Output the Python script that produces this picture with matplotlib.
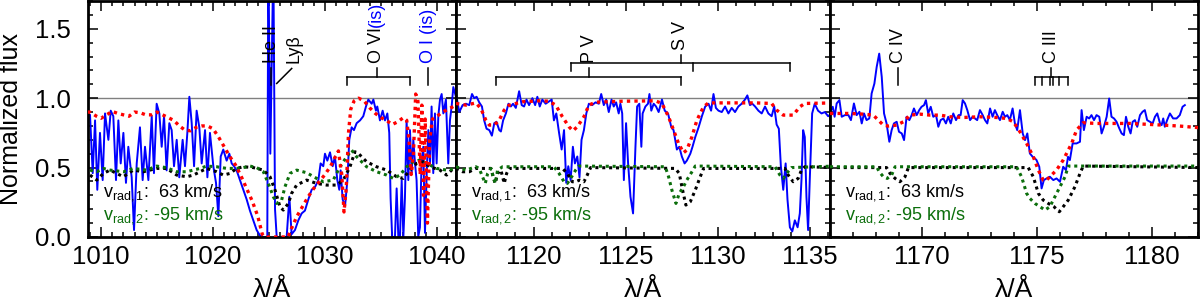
import matplotlib
matplotlib.use("Agg")
import matplotlib.pyplot as plt
import matplotlib.transforms as mtransforms
from matplotlib.ticker import MultipleLocator, FormatStrFormatter
import numpy as np

plt.rcParams['font.family'] = ['Liberation Sans', 'DejaVu Sans']
plt.rcParams['mathtext.fontset'] = 'custom'
plt.rcParams['mathtext.rm'] = 'Liberation Sans'
plt.rcParams['mathtext.it'] = 'Liberation Sans:italic'
plt.rcParams['mathtext.bf'] = 'Liberation Sans:bold'

NARROW = ['Liberation Sans Narrow', 'DejaVu Sans Condensed', 'Liberation Sans']

# ---------------- data: panel 1 (O VI region) ----------------
p1_obs = [(1008.84,0.87),(1009.02,0.88),(1009.26,0.46),(1009.47,0.84),(1009.67,0.34),(1009.91,0.75),(1010.15,0.41),(1010.36,0.89),(1010.66,0.70),(1010.87,0.91),(1011.10,0.87),(1011.34,0.41),(1011.55,0.84),(1011.76,0.53),(1012.00,0.75),(1012.23,0.39),(1012.44,0.65),(1012.74,0.43),(1012.95,0.05),(1013.19,0.53),(1013.48,0.79),(1013.72,0.41),(1013.93,0.65),(1014.23,0.41),(1014.53,0.87),(1014.73,0.46),(1014.97,0.96),(1015.21,0.89),(1015.42,0.65),(1015.63,0.87),(1015.86,0.48),(1016.10,0.82),(1016.31,0.77),(1016.52,0.51),(1016.76,0.70),(1016.99,0.43),(1017.29,0.70),(1017.50,0.51),(1017.71,0.75),(1017.89,1.01),(1018.10,0.82),(1018.31,0.51),(1018.54,0.91),(1018.78,0.79),(1018.99,0.53),(1019.29,0.77),(1019.50,0.43),(1019.73,0.75),(1020.03,0.51),(1020.27,0.39),(1020.48,0.15),(1020.69,0.58),(1020.92,0.63),(1021.22,0.55),(1021.46,0.60),(1021.67,0.53),(1021.88,0.51),(1022.11,0.48),(1022.41,0.41),(1022.71,0.34),(1023.01,0.27),(1023.30,0.19),(1023.60,0.12),(1023.90,0.05),(1024.20,0.01),(1024.50,0.0),(1024.85,0.0),(1024.94,2.0),(1025.12,0.6),(1025.39,2.0),(1025.54,0.2),(1025.69,0.0),(1026.13,0.0),(1026.58,0.0),(1026.82,0.29),(1027.02,0.02),(1027.32,0.05),(1027.62,0.12),(1027.92,0.17),(1028.21,0.19),(1028.51,0.27),(1028.81,0.34),(1029.11,0.36),(1029.41,0.41),(1029.61,0.53),(1029.85,0.51),(1030.00,0.60),(1030.21,0.55),(1030.45,0.61),(1030.69,0.51),(1030.89,0.58),(1031.10,0.41),(1031.28,0.34),(1031.40,0.48),(1031.58,0.27),(1031.79,0.22),(1032.00,0.41),(1032.17,0.70),(1032.38,0.79),(1032.59,0.77),(1032.83,0.82),(1033.13,0.84),(1033.42,0.87),(1033.66,0.94),(1033.87,0.99),(1034.17,0.96),(1034.32,0.99),(1034.55,0.91),(1034.67,0.94),(1034.91,0.84),(1035.15,0.91),(1035.36,0.84),(1035.57,0.89),(1035.74,0.75),(1035.86,0.28),(1036.00,0.0),(1036.25,0.0),(1036.40,0.35),(1036.55,0.0),(1036.70,0.0),(1036.85,0.41),(1037.00,0.0),(1037.14,0.28),(1037.29,0.84),(1037.44,0.41),(1037.59,0.77),(1037.74,0.46),(1037.89,0.70),(1038.04,0.53),(1038.18,0.41),(1038.33,0.0),(1038.48,0.07),(1038.63,0.55),(1038.78,0.65),(1038.93,0.03),(1039.08,0.45),(1039.23,0.77),(1039.38,0.53),(1039.52,0.94),(1039.67,0.46),(1039.82,0.89),(1039.97,0.53),(1040.12,0.87),(1040.27,0.99),(1040.42,1.03),(1040.57,0.89),(1040.80,0.99),(1041.01,0.53),(1041.16,0.84),(1041.31,0.94),(1041.46,1.08),(1041.76,0.99)]

p1_model = [(1008.8,0.90),(1009.0,0.90),(1009.6,0.87),(1010.0,0.855),(1010.5,0.88),(1011.0,0.905),(1011.5,0.89),(1012.0,0.88),(1012.5,0.87),(1013.0,0.90),(1013.5,0.895),(1014.0,0.88),(1014.5,0.88),(1015.0,0.90),(1015.5,0.88),(1016.0,0.86),(1016.5,0.84),(1017.0,0.80),(1017.5,0.77),(1018.0,0.765),(1018.5,0.79),(1019.0,0.80),(1019.5,0.80),(1020.0,0.78),(1020.5,0.72),(1021.0,0.65),(1021.5,0.58),(1022.0,0.52),(1022.5,0.44),(1023.0,0.35),(1023.5,0.26),(1024.0,0.15),(1024.4,0.02),(1024.6,0.0),(1026.7,0.0),(1027.0,0.06),(1027.5,0.15),(1028.0,0.22),(1028.5,0.29),(1029.0,0.35),(1029.5,0.40),(1030.0,0.45),(1030.5,0.51),(1031.0,0.59),(1031.2,0.62),(1031.5,0.45),(1031.7,0.18),(1031.9,0.35),(1032.1,0.75),(1032.3,0.92),(1032.6,0.98),(1033.0,1.00),(1033.5,0.98),(1034.0,0.93),(1034.5,0.89),(1035.0,0.86),(1035.5,0.84),(1036.0,0.81),(1036.5,0.83),(1037.0,0.86),(1037.3,0.84),(1037.5,0.70),(1037.7,0.45),(1037.9,0.60),(1038.1,1.03),(1038.3,0.98),(1038.5,0.45),(1038.65,0.95),(1038.8,0.30),(1038.95,0.85),(1039.15,0.10),(1039.35,0.70),(1039.6,0.85),(1040.0,0.87),(1040.5,0.90),(1041.0,0.92),(1041.7,0.95)]

p1_vrad1 = [(1009.02,0.446),(1009.62,0.41),(1010.21,0.458),(1010.81,0.482),(1011.40,0.458),(1012.0,0.434),(1012.89,0.482),(1013.78,0.47),(1014.97,0.494),(1015.86,0.494),(1016.76,0.446),(1017.65,0.434),(1018.25,0.446),(1018.84,0.47),(1019.44,0.494),(1020.33,0.47),(1020.92,0.446),(1021.52,0.458),(1022.11,0.494),(1022.71,0.506),(1023.60,0.50),(1024.50,0.482),(1025.09,0.434),(1025.54,0.338),(1025.98,0.218),(1026.28,0.194),(1026.73,0.242),(1027.02,0.314),(1027.47,0.374),(1028.36,0.41),(1029.26,0.386),(1030.15,0.374),(1031.04,0.374),(1031.64,0.41),(1032.23,0.506),(1032.68,0.614),(1032.98,0.602),(1033.72,0.542),(1034.61,0.506),(1035.51,0.482),(1036.40,0.434),(1036.99,0.422),(1037.59,0.482),(1038.18,0.530),(1038.78,0.542),(1039.38,0.506),(1040.27,0.482),(1040.86,0.446),(1041.46,0.494),(1042.05,0.506)]

p1_vrad2 = [(1009.02,0.482),(1009.62,0.47),(1010.21,0.494),(1010.81,0.482),(1012.0,0.47),(1012.89,0.494),(1014.08,0.482),(1014.97,0.511),(1015.86,0.499),(1016.76,0.47),(1017.65,0.47),(1018.84,0.494),(1019.44,0.511),(1020.33,0.506),(1021.22,0.494),(1022.11,0.494),(1022.71,0.50),(1023.30,0.511),(1023.90,0.50),(1024.50,0.47),(1024.94,0.386),(1025.39,0.29),(1025.69,0.242),(1026.13,0.266),(1026.43,0.362),(1026.88,0.458),(1027.47,0.482),(1028.36,0.463),(1029.26,0.422),(1029.85,0.398),(1030.74,0.41),(1031.34,0.506),(1031.94,0.578),(1032.38,0.626),(1032.83,0.578),(1033.72,0.506),(1034.61,0.47),(1035.51,0.446),(1036.10,0.422),(1036.70,0.446),(1037.29,0.506),(1037.89,0.542),(1038.48,0.554),(1039.08,0.53),(1039.97,0.494),(1040.86,0.482),(1041.76,0.494)]

# ---------------- data: panel 2 (P V region) ----------------
p2_obs = [(1115.78,1.03),(1115.96,0.90),(1116.14,0.95),(1116.32,0.96),(1116.50,0.95),(1116.65,1.03),(1116.77,1.00),(1116.90,1.01),(1117.04,0.97),(1117.19,0.94),(1117.31,0.84),(1117.44,0.78),(1117.59,0.77),(1117.73,0.73),(1117.86,0.82),(1117.98,0.83),(1118.13,0.77),(1118.22,0.76),(1118.34,0.84),(1118.49,0.89),(1118.63,0.96),(1118.76,0.94),(1118.88,0.96),(1119.03,0.93),(1119.21,1.05),(1119.35,0.95),(1119.48,0.94),(1119.61,0.99),(1119.75,0.95),(1119.93,1.00),(1120.08,0.95),(1120.20,1.01),(1120.33,0.94),(1120.47,0.99),(1120.65,0.96),(1120.98,0.99),(1121.10,0.84),(1121.23,0.89),(1121.38,0.75),(1121.52,0.63),(1121.65,0.77),(1121.77,0.39),(1121.88,0.51),(1122.01,0.41),(1122.13,0.65),(1122.24,0.53),(1122.37,0.58),(1122.49,0.43),(1122.60,0.70),(1122.73,0.77),(1122.86,0.89),(1123.0,0.96),(1123.18,0.95),(1123.36,0.97),(1123.54,0.96),(1123.67,1.03),(1123.81,0.95),(1123.94,0.99),(1124.08,0.90),(1124.23,0.99),(1124.35,0.94),(1124.48,0.97),(1124.62,0.89),(1124.71,0.96),(1124.81,0.89),(1124.90,0.41),(1125.02,0.82),(1125.13,0.53),(1125.26,0.29),(1125.40,0.17),(1125.53,0.65),(1125.62,0.94),(1125.74,0.96),(1125.85,0.65),(1125.92,0.89),(1126.07,0.94),(1126.21,0.96),(1126.29,1.03),(1126.39,0.91),(1126.52,0.96),(1126.65,0.94),(1126.79,0.90),(1126.97,0.99),(1127.12,0.91),(1127.30,0.89),(1127.48,0.79),(1127.60,0.77),(1127.69,0.70),(1127.78,0.63),(1127.91,0.65),(1128.05,0.58),(1128.20,0.53),(1128.32,0.55),(1128.51,0.60),(1128.63,0.65),(1128.78,0.72),(1128.96,0.79),(1129.14,0.87),(1129.32,0.94),(1129.50,0.96),(1129.64,0.91),(1129.77,1.03),(1129.90,0.93),(1130.04,0.91),(1130.22,0.90),(1130.40,0.94),(1130.58,0.89),(1130.76,0.93),(1130.94,0.90),(1131.12,0.94),(1131.30,0.96),(1131.48,0.99),(1131.61,1.02),(1131.75,0.95),(1131.88,0.96),(1132.03,0.94),(1132.21,0.91),(1132.39,0.89),(1132.57,0.94),(1132.75,0.89),(1132.93,0.87),(1133.07,0.94),(1133.20,0.81),(1133.32,0.78),(1133.43,0.51),(1133.56,0.34),(1133.69,0.53),(1133.79,0.27),(1133.92,0.07),(1134.05,0.04),(1134.19,0.12),(1134.34,0.07),(1134.46,0.17),(1134.55,0.41),(1134.64,0.77),(1134.73,0.72),(1134.82,0.29),(1134.91,0.05),(1135.0,0.41),(1135.13,0.89),(1135.27,0.96),(1135.45,0.91),(1135.64,0.89),(1135.82,0.90),(1136.0,0.87),(1136.18,0.89),(1136.36,0.92)]

p2_model = [(1115.78,0.962),(1116.32,0.95),(1116.86,0.966),(1117.13,0.926),(1117.40,0.842),(1117.59,0.806),(1117.86,0.806),(1118.13,0.842),(1118.40,0.914),(1118.67,0.95),(1119.39,0.974),(1120.29,0.981),(1120.83,0.978),(1121.20,0.95),(1121.56,0.866),(1121.92,0.794),(1122.13,0.765),(1122.37,0.794),(1122.73,0.866),(1123.0,0.95),(1123.36,0.971),(1124.81,0.978),(1126.61,0.981),(1126.97,0.962),(1127.33,0.866),(1127.60,0.770),(1127.87,0.674),(1128.14,0.607),(1128.32,0.626),(1128.60,0.722),(1128.87,0.842),(1129.23,0.938),(1129.50,0.966),(1132.03,0.966),(1132.93,0.962),(1133.20,0.914),(1133.56,0.878),(1134.10,0.878),(1134.46,0.938),(1134.73,0.962),(1136.36,0.966)]

p2_vrad1 = [(1115.78,0.494),(1116.14,0.47),(1116.50,0.47),(1116.86,0.494),(1117.68,0.494),(1117.80,0.434),(1117.91,0.386),(1118.04,0.458),(1118.22,0.482),(1118.40,0.386),(1118.53,0.458),(1118.67,0.494),(1121.56,0.494),(1121.83,0.458),(1122.10,0.398),(1122.28,0.398),(1122.49,0.41),(1122.73,0.398),(1122.91,0.446),(1123.09,0.50),(1127.69,0.494),(1127.91,0.458),(1128.09,0.338),(1128.27,0.23),(1128.51,0.254),(1128.78,0.338),(1129.05,0.434),(1129.23,0.494),(1133.65,0.494),(1133.83,0.446),(1134.10,0.398),(1134.37,0.422),(1134.55,0.482),(1134.73,0.506),(1136.36,0.50)]

p2_vrad2 = [(1115.78,0.506),(1116.32,0.482),(1116.86,0.506),(1117.04,0.494),(1117.22,0.434),(1117.37,0.386),(1117.50,0.458),(1117.68,0.494),(1117.80,0.434),(1117.91,0.386),(1118.04,0.482),(1118.31,0.506),(1121.10,0.506),(1121.38,0.458),(1121.65,0.398),(1121.83,0.386),(1122.01,0.422),(1122.28,0.482),(1122.46,0.511),(1127.15,0.506),(1127.33,0.434),(1127.51,0.338),(1127.73,0.242),(1127.91,0.314),(1128.14,0.362),(1128.32,0.41),(1128.60,0.47),(1128.78,0.511),(1133.11,0.506),(1133.38,0.446),(1133.56,0.422),(1133.74,0.458),(1134.01,0.50),(1136.36,0.511)]

# ---------------- data: panel 3 (C III region) ----------------
p3_obs = [(1166.02,0.902),(1166.14,0.938),(1166.22,0.866),(1166.31,0.962),(1166.43,0.986),(1166.53,0.866),(1166.67,0.878),(1166.82,0.878),(1166.93,0.842),(1167.06,0.962),(1167.18,0.878),(1167.30,0.902),(1167.40,0.818),(1167.50,0.890),(1167.61,0.842),(1167.73,0.854),(1167.83,1.034),(1167.95,1.105),(1168.05,1.225),(1168.16,1.321),(1168.27,1.153),(1168.37,0.890),(1168.48,0.818),(1168.60,0.686),(1168.70,0.770),(1168.80,0.818),(1168.92,0.830),(1169.02,0.758),(1169.14,0.746),(1169.24,0.698),(1169.35,0.866),(1169.47,0.842),(1169.57,0.878),(1169.67,0.926),(1169.79,0.878),(1169.90,0.914),(1170.0,0.938),(1170.11,0.950),(1170.19,0.986),(1170.29,0.890),(1170.40,0.938),(1170.51,0.866),(1170.63,0.878),(1170.73,0.794),(1170.83,0.842),(1170.95,0.854),(1171.06,0.818),(1171.16,0.866),(1171.27,0.818),(1171.38,0.890),(1171.50,0.842),(1171.61,0.878),(1171.70,0.878),(1171.79,0.986),(1171.89,0.962),(1171.99,0.914),(1172.11,0.842),(1172.22,0.866),(1172.32,0.854),(1172.42,0.842),(1172.54,0.914),(1172.66,0.878),(1172.76,0.842),(1172.86,0.818),(1172.98,0.926),(1173.09,0.866),(1173.19,0.914),(1173.29,0.878),(1173.41,0.842),(1173.53,0.902),(1173.63,0.866),(1173.73,0.878),(1173.84,0.842),(1173.96,0.926),(1174.06,0.818),(1174.16,0.770),(1174.28,0.914),(1174.40,0.746),(1174.50,0.698),(1174.60,0.746),(1174.71,0.602),(1174.83,0.578),(1174.93,0.566),(1175.0,0.554),(1175.12,0.506),(1175.22,0.35),(1175.32,0.41),(1175.44,0.422),(1175.58,0.434),(1175.73,0.41),(1175.87,0.422),(1176.02,0.398),(1176.16,0.506),(1176.28,0.482),(1176.37,0.578),(1176.45,0.554),(1176.57,0.674),(1176.74,0.674),(1176.89,0.686),(1176.96,0.914),(1177.06,0.770),(1177.18,0.866),(1177.29,0.854),(1177.39,0.878),(1177.50,0.842),(1177.61,0.878),(1177.73,0.866),(1177.83,0.746),(1177.93,0.794),(1178.05,0.866),(1178.16,0.998),(1178.26,0.866),(1178.37,0.854),(1178.48,0.830),(1178.60,0.782),(1178.70,0.746),(1178.80,0.734),(1178.89,0.866),(1178.99,0.794),(1179.09,0.746),(1179.18,0.830),(1179.28,0.842),(1179.38,0.794),(1179.50,0.878),(1179.61,0.902),(1179.71,0.914),(1179.81,0.842),(1179.93,0.830),(1180.05,0.818),(1180.15,0.866),(1180.25,0.890),(1180.37,0.818),(1180.44,0.806),(1180.51,0.854),(1180.58,0.794),(1180.68,0.842),(1180.80,0.890),(1180.94,0.854),(1181.09,0.854),(1181.23,0.878),(1181.35,0.938),(1181.45,0.950)]

p3_model = [(1166.02,0.890),(1166.89,0.890),(1167.47,0.885),(1167.90,0.878),(1168.12,0.842),(1168.34,0.806),(1168.56,0.799),(1168.92,0.806),(1169.21,0.830),(1169.50,0.878),(1169.93,0.885),(1170.37,0.878),(1170.80,0.878),(1171.24,0.866),(1171.82,0.861),(1172.54,0.866),(1173.27,0.861),(1173.70,0.854),(1173.99,0.830),(1174.28,0.758),(1174.57,0.674),(1174.86,0.578),(1175.08,0.482),(1175.29,0.41),(1175.41,0.405),(1175.58,0.434),(1175.87,0.482),(1176.16,0.554),(1176.38,0.626),(1176.53,0.674),(1176.74,0.770),(1177.03,0.823),(1177.61,0.818),(1179.06,0.818),(1180.51,0.806),(1181.23,0.799),(1182.10,0.787)]

p3_vrad1 = [(1166.02,0.50),(1168.48,0.50),(1168.63,0.458),(1168.85,0.422),(1169.06,0.398),(1169.28,0.434),(1169.43,0.50),(1174.64,0.50),(1174.86,0.434),(1175.08,0.314),(1175.29,0.266),(1175.51,0.242),(1175.76,0.218),(1175.99,0.182),(1176.16,0.218),(1176.38,0.266),(1176.67,0.362),(1176.89,0.458),(1177.03,0.511),(1182.10,0.50)]

p3_vrad2 = [(1166.02,0.506),(1168.05,0.506),(1168.16,0.47),(1168.34,0.434),(1168.51,0.422),(1168.70,0.446),(1168.85,0.506),(1174.13,0.506),(1174.35,0.434),(1174.57,0.314),(1174.71,0.278),(1174.93,0.242),(1175.15,0.218),(1175.37,0.194),(1175.58,0.218),(1175.80,0.29),(1176.02,0.362),(1176.24,0.434),(1176.38,0.511),(1182.10,0.511)]

# panel settings
xlims = [(1008.84, 1041.7), (1115.78, 1136.1), (1166.02, 1182.0)]
xmajor = [10, 5, 5]
vrad_labels = [r'v$_{\rm rad,1}$:  63 km/s', r'v$_{\rm rad,2}$: -95 km/s']

BLUE = '#0000FF'
RED = '#FF0000'
GREEN = '#0B6E0B'
DOT = (0, (1.0, 1.25))

fig = plt.figure(figsize=(12, 3.08), dpi=100)
W, H = 1200.0, 308.0
bottom = (H - 237) / H
height = 236 / H
lefts_px = [88, 456, 830]
rights_px = [456, 830, 1197.5]
axes = []
for lp, rp in zip(lefts_px, rights_px):
    axes.append(fig.add_axes([lp / W, bottom, (rp - lp) / W, height]))

datasets = [(p1_obs, p1_model, p1_vrad1, p1_vrad2),
            (p2_obs, p2_model, p2_vrad1, p2_vrad2),
            (p3_obs, p3_model, p3_vrad1, p3_vrad2)]

for i, ax in enumerate(axes):
    obs, mod, v1, v2 = [np.array(d) for d in datasets[i]]
    ax.axhline(1.0, color='#808080', lw=1.0, zorder=1)
    ax.plot(obs[:, 0], obs[:, 1], color=BLUE, lw=1.4, zorder=2)
    ax.plot(v1[:, 0], v1[:, 1], color='black', lw=2.2, ls=DOT, zorder=3)
    ax.plot(v2[:, 0], v2[:, 1], color=GREEN, lw=2.2, ls=DOT, zorder=3)
    ax.plot(mod[:, 0], mod[:, 1], color=RED, lw=2.4, ls=DOT, zorder=4)
    ax.set_xlim(*xlims[i])
    ax.set_ylim(0, 1.7)
    ax.xaxis.set_major_locator(MultipleLocator(xmajor[i]))
    ax.xaxis.set_minor_locator(MultipleLocator(1))
    ax.yaxis.set_major_locator(MultipleLocator(0.5))
    ax.yaxis.set_minor_locator(MultipleLocator(0.1))
    ax.yaxis.set_major_formatter(FormatStrFormatter('%.1f'))
    ax.tick_params(which='both', direction='in', top=True, right=True, width=1.1, color='black')
    ax.tick_params(which='major', length=7, labelsize=18.5)
    ax.tick_params(which='minor', length=3.8)
    ax.tick_params(axis='x', which='major', pad=6)
    ax.tick_params(axis='y', which='major', pad=12)
    if i > 0:
        ax.tick_params(axis='y', labelleft=False)
    for s in ax.spines.values():
        s.set_linewidth(2.0)
    ax.text(0.04, 0.17, vrad_labels[0], transform=ax.transAxes, fontsize=13,
            color='black', va='baseline', ha='left', zorder=6)
    ax.text(0.04, 0.075, vrad_labels[1], transform=ax.transAxes, fontsize=13,
            color=GREEN, va='baseline', ha='left', zorder=6)
    trans = mtransforms.blended_transform_factory(ax.transAxes, fig.transFigure)
    ax.text(0.5, 0.058, 'λ/Å', transform=trans, ha='center', va='center', fontsize=19)

fig.text(11 / W, bottom + height / 2, 'Normalized flux', rotation=90,
         ha='center', va='center', fontsize=18)

LBL = dict(rotation=90, ha='center', va='bottom', fontsize=13, family=NARROW)
LW = 1.1
Y_BAR, Y_DOWN, Y_UP, Y_TXT = 1.151, 1.094, 1.216, 1.255


def vline(ax, x, y0, y1):
    ax.plot([x, x], [y0, y1], color='black', lw=LW, zorder=5)


def bracket(ax, xs, ybar, ydown, xtop, ytop):
    ax.plot([min(xs), max(xs)], [ybar, ybar], color='black', lw=LW, zorder=5)
    for x in xs:
        vline(ax, x, ydown, ybar)
    vline(ax, xtop, ybar, ytop)


ax1, ax2, ax3 = axes
# He II / Ly beta
vline(ax1, 1025.2, Y_DOWN, Y_UP)
ax1.text(1025.2, Y_TXT, 'He II', color='black', **LBL)
ax1.plot([1025.69, 1027.03], [1.106, 1.214], color='black', lw=LW, zorder=5)
ax1.text(1027.25, Y_TXT, 'Lyβ', color='black', **LBL)
# O VI
bracket(ax1, [1031.93, 1037.62], Y_BAR, Y_DOWN, 1034.62, Y_UP)
t_ovi = ax1.text(1034.62, Y_TXT, 'O VI', color='black', **LBL)
ax1.annotate('(is)', xy=(0.5, 1.0), xycoords=t_ovi, xytext=(0, 0.0),
             textcoords='offset points', color=BLUE, **LBL)
# O I
vline(ax1, 1039.22, Y_DOWN, Y_UP)
ax1.text(1039.22, Y_TXT, 'O I (is)', color=BLUE, **LBL)

# P V and S V
bracket(ax2, [1117.98, 1128.01], Y_BAR, Y_DOWN, 1123.03, Y_UP)
ax2.text(1123.03, Y_TXT, 'P V', color='black', **LBL)
bracket(ax2, [1122.04, 1128.68, 1133.9], 1.252, 1.196, 1128.0, 1.309)
ax2.text(1128.0, 1.35, 'S V', color='black', **LBL)

# C IV and C III
vline(ax3, 1168.99, Y_DOWN, Y_UP)
ax3.text(1168.99, Y_TXT, 'C IV', color='black', **LBL)
bracket(ax3, [1174.93, 1175.26, 1175.59, 1175.71, 1175.99, 1176.37],
        Y_BAR, Y_DOWN, 1175.64, Y_UP)
ax3.text(1175.64, Y_TXT, 'C III', color='black', **LBL)

fig.savefig('out.png', dpi=100)
